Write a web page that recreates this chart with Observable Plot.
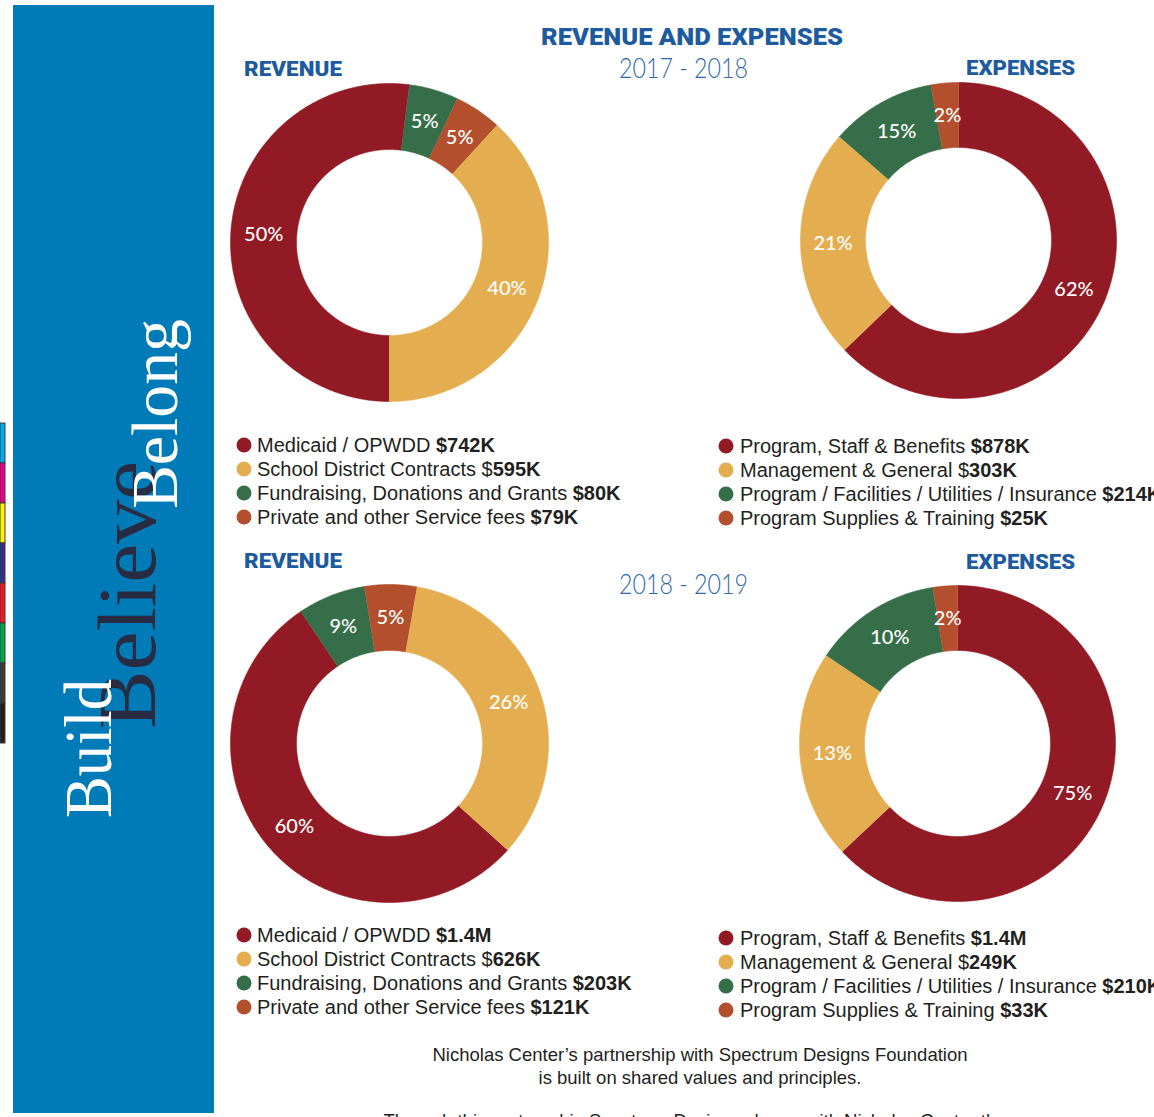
<!DOCTYPE html>
<html>
<head>
<meta charset="utf-8">
<script src="https://cdn.jsdelivr.net/npm/d3@7"></script>
<script src="https://cdn.jsdelivr.net/npm/@observablehq/plot@0.6"></script>
<style>
html, body { margin: 0; padding: 0; background: #fff; }
#page { position: relative; width: 1154px; height: 1117px; overflow: hidden; background: #fff; }
#overlay { position: absolute; left: 0; top: 0; }
.donut { position: absolute; }
</style>
</head>
<body>
<div id="page"></div>
<script>
// ---------------- DATA ----------------
const revenueCategories = ["Medicaid / OPWDD", "School District Contracts", "Fundraising, Donations and Grants", "Private and other Service fees"];
const expenseCategories = ["Program, Staff & Benefits", "Management & General", "Program / Facilities / Utilities / Insurance", "Program Supplies & Training"];

const revenue1718Amounts = ["$742K", "$595K", "$80K", "$79K"];
const expense1718Amounts = ["$878K", "$303K", "$214K", "$25K"];
const revenue1819Amounts = ["$1.4M", "$626K", "$203K", "$121K"];
const expense1819Amounts = ["$1.4M", "$249K", "$210K", "$33K"];

// printed percentage labels (legend order)
const revenue1718Labels = ["50%", "40%", "5%", "5%"];
const expense1718Labels = ["62%", "21%", "15%", "2%"];
const revenue1819Labels = ["60%", "26%", "9%", "5%"];
const expense1819Labels = ["75%", "13%", "10%", "2%"];

// slice sizes as drawn in the picture (percent of ring, legend order)
const revenue1718Shares = [52.0, 38.2, 5.0, 4.8];
const expense1718Shares = [62.8, 23.6, 10.8, 2.8];
const revenue1819Shares = [53.9, 33.9, 6.9, 5.3];
const expense1819Shares = [63.0, 21.4, 13.1, 2.5];

const yearLabels = ["2017 - 2018", "2018 - 2019"];

// ---------------- STYLE / LAYOUT ----------------
const sliceColors = ["#921a24", "#e4ae50", "#376e4a", "#b44f2d"];
const revenueRingOrder = [0, 2, 3, 1];  // clockwise: red, green, orange, gold
const expenseRingOrder = [0, 1, 2, 3];  // clockwise: red, gold, green, orange
const headingBlue = "#1d5ba1";
const yearBlue = "#2f6aae";
const textDark = "#231f20";

const page = document.getElementById("page");

function donut({shares, labels, order, startDeg, R, r, cx, cy}) {
  const total = d3.sum(shares);
  const pts = [], lab = [];
  let a = startDeg;
  for (const i of order) {
    const span = shares[i] / total * 360;
    const a0 = a, a1 = a + span;
    const n = Math.max(2, Math.ceil(span / 0.5));
    for (let k = 0; k <= n; k++) {
      const t = (a0 + (a1 - a0) * k / n) * Math.PI / 180;
      pts.push({s: i, c: sliceColors[i], x: R * Math.sin(t), y: R * Math.cos(t)});
    }
    for (let k = n; k >= 0; k--) {
      const t = (a0 + (a1 - a0) * k / n) * Math.PI / 180;
      pts.push({s: i, c: sliceColors[i], x: r * Math.sin(t), y: r * Math.cos(t)});
    }
    const m = (a0 + a1) / 2 * Math.PI / 180, rm = (R + r) / 2;
    lab.push({x: rm * Math.sin(m), y: rm * Math.cos(m), text: labels[i]});
    a = a1;
  }
  const chart = Plot.plot({
    width: 320, height: 320, margin: 0,
    x: {domain: [-160, 160], axis: null},
    y: {domain: [-160, 160], axis: null},
    color: {type: "identity"},
    style: {background: "transparent", overflow: "visible"},
    marks: [
      Plot.line(pts, {x: "x", y: "y", z: "s", fill: "c", stroke: "c", strokeWidth: 0.6, curve: "linear"}),
      Plot.text(lab, {x: "x", y: "y", text: "text", fill: "white", fontSize: 20, fontFamily: "Lato, 'Open Sans', sans-serif", fontWeight: 500})
    ]
  });
  const wrap = document.createElement("div");
  wrap.className = "donut";
  wrap.style.left = (cx - 160) + "px";
  wrap.style.top = (cy - 160) + "px";
  wrap.appendChild(chart);
  page.appendChild(wrap);
}

// ---------------- DECORATION + TEXT OVERLAY ----------------
const stripColors = ["#00aeef", "#ec008c", "#fff200", "#2e3192", "#ed1c24", "#00a651", "#3b3b3c", "#231f20"];
let svg = `<svg id="overlay" width="1154" height="1117" xmlns="http://www.w3.org/2000/svg">`;
stripColors.forEach((c, i) => {
  svg += `<rect x="0" y="${423 + 40 * i}" width="5" height="40" fill="${c}" stroke="#3a3a3a" stroke-width="1"/>`;
});
svg += `<rect x="13" y="5" width="201" height="1108" fill="#007bb8"/>`;
// rotated serif words
svg += `<text transform="translate(155,729) rotate(-90)" font-family="'Liberation Serif', 'DejaVu Serif', serif" font-size="82" fill="#272c43" textLength="268" lengthAdjust="spacingAndGlyphs">Believe</text>`;
svg += `<text transform="translate(111,818) rotate(-90)" font-family="'Liberation Serif', 'DejaVu Serif', serif" font-size="68" fill="#ffffff" textLength="139" lengthAdjust="spacingAndGlyphs">Build</text>`;
svg += `<text transform="translate(177,509) rotate(-90)" font-family="'Liberation Serif', 'DejaVu Serif', serif" font-size="66" fill="#ffffff" textLength="190" lengthAdjust="spacingAndGlyphs">Belong</text>`;

// headings
const hFont = `font-family="Roboto, 'Open Sans', sans-serif" font-weight="900"`;
svg += `<text x="541" y="45" ${hFont} font-size="24" fill="${headingBlue}" textLength="302" lengthAdjust="spacingAndGlyphs">REVENUE AND EXPENSES</text>`;
svg += `<text x="244" y="76" ${hFont} font-size="21" fill="${headingBlue}" textLength="98" lengthAdjust="spacingAndGlyphs">REVENUE</text>`;
svg += `<text x="966" y="75" ${hFont} font-size="21" fill="${headingBlue}" textLength="109" lengthAdjust="spacingAndGlyphs">EXPENSES</text>`;
svg += `<text x="244" y="568" ${hFont} font-size="21" fill="${headingBlue}" textLength="98" lengthAdjust="spacingAndGlyphs">REVENUE</text>`;
svg += `<text x="966" y="569" ${hFont} font-size="21" fill="${headingBlue}" textLength="109" lengthAdjust="spacingAndGlyphs">EXPENSES</text>`;
const yFont = `font-family="Lato, Roboto, sans-serif" font-weight="300"`;
svg += `<text x="619" y="78" ${yFont} font-size="28" fill="${yearBlue}" textLength="129" lengthAdjust="spacingAndGlyphs">${yearLabels[0]}</text>`;
svg += `<text x="619" y="594" ${yFont} font-size="28" fill="${yearBlue}" textLength="129" lengthAdjust="spacingAndGlyphs">${yearLabels[1]}</text>`;

// legends
function esc(s) { return s.replace(/&/g, "&amp;"); }
function legend(categories, amounts, dotX, textX, firstCenter) {
  let out = "";
  categories.forEach((cat, i) => {
    const cy = firstCenter + 24 * i;
    out += `<circle cx="${dotX}" cy="${cy}" r="7.5" fill="${sliceColors[i]}"/>`;
    const amt = amounts[i];
    // the gold row shows a regular "$" before the bold number
    const amtSvg = i === 1
      ? `$<tspan font-weight="700">${esc(amt.slice(1))}</tspan>`
      : `<tspan font-weight="700">${esc(amt)}</tspan>`;
    out += `<text x="${textX}" y="${cy + 7}" font-family="'Liberation Sans', Arial, sans-serif" font-size="20" fill="${textDark}" xml:space="preserve">${esc(cat)} ${amtSvg}</text>`;
  });
  return out;
}
svg += legend(revenueCategories, revenue1718Amounts, 244, 257, 445);
svg += legend(expenseCategories, expense1718Amounts, 726, 740, 446);
svg += legend(revenueCategories, revenue1819Amounts, 244, 257, 935);
svg += legend(expenseCategories, expense1819Amounts, 726, 740, 938);

// caption
const capFont = `font-family="'Liberation Sans', Arial, sans-serif" font-size="18.5" fill="${textDark}" text-anchor="middle"`;
svg += `<text x="700" y="1061" ${capFont}>Nicholas Center’s partnership with Spectrum Designs Foundation</text>`;
svg += `<text x="700" y="1084" ${capFont}>is built on shared values and principles.</text>`;
svg += `<text x="695" y="1127" ${capFont}>Through this partnership Spectrum Designs shares with Nicholas Center the</text>`;
svg += `</svg>`;
page.insertAdjacentHTML("beforeend", svg);

// ---------------- DONUTS ----------------
donut({shares: revenue1718Shares, labels: revenue1718Labels, order: revenueRingOrder, startDeg: 180, R: 159, r: 93, cx: 389, cy: 242});
donut({shares: expense1718Shares, labels: expense1718Labels, order: expenseRingOrder, startDeg: 0, R: 158, r: 93, cx: 958, cy: 240});
donut({shares: revenue1819Shares, labels: revenue1819Labels, order: revenueRingOrder, startDeg: 132, R: 159, r: 93, cx: 389, cy: 743});
donut({shares: expense1819Shares, labels: expense1819Labels, order: expenseRingOrder, startDeg: 0, R: 158, r: 93, cx: 957, cy: 743});
</script>
</body>
</html>
